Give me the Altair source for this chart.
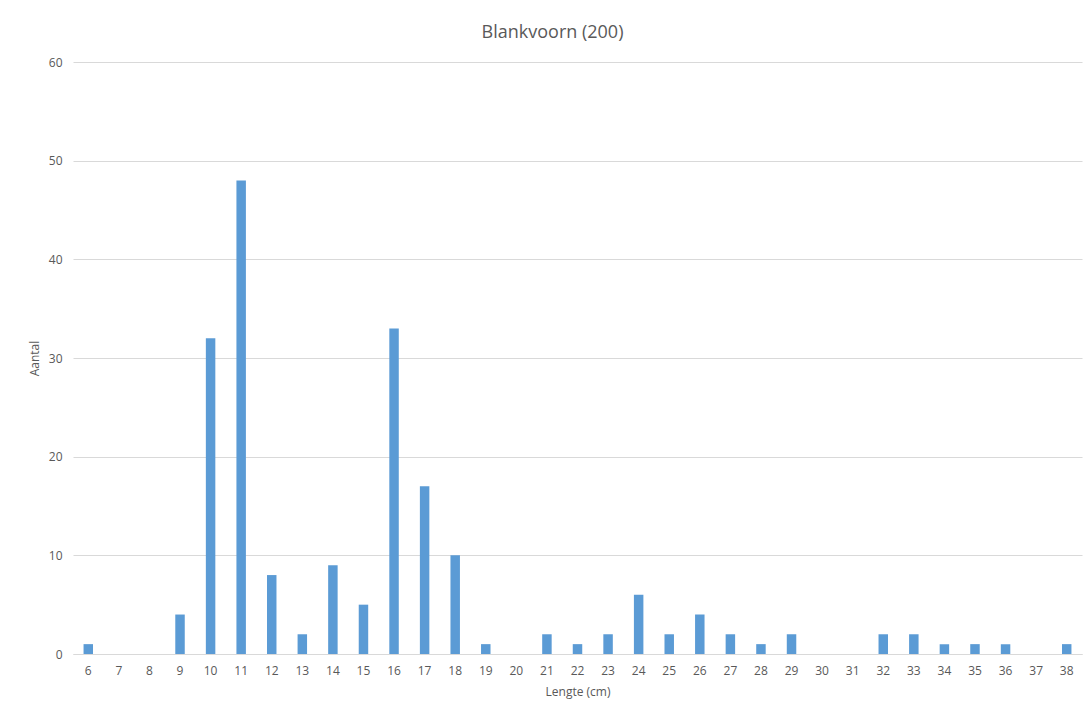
import altair as alt
import pandas as pd

lengths = list(range(6, 39))
counts = [1, 0, 0, 4, 32, 48, 8, 2, 9, 5, 33, 17, 10, 1, 0, 2, 1, 2, 6, 2, 4, 2, 1, 2, 0, 0, 2, 2, 1, 1, 1, 0, 1]

df = pd.DataFrame({"Lengte": [str(v) for v in lengths], "Aantal": counts})

font = "Open Sans"
grey = "#595959"

chart = alt.Chart(df).mark_bar(color="#5B9BD5").encode(
    x=alt.X("Lengte:N", sort=[str(v) for v in lengths],
            scale=alt.Scale(paddingInner=0.69, paddingOuter=0.345),
            axis=alt.Axis(title="Lengte (cm)", labelAngle=0, ticks=False,
                          domainColor="#D9D9D9", labelPadding=11, titlePadding=10,
                          labelFontSize=12, titleFontSize=12, titleFontWeight="normal",
                          labelColor=grey, titleColor=grey, labelFont=font, titleFont=font)),
    y=alt.Y("Aantal:Q", scale=alt.Scale(domain=[0, 60]),
            axis=alt.Axis(title="Aantal", values=[0, 10, 20, 30, 40, 50, 60], ticks=False,
                          domain=False, gridColor="#D9D9D9", labelPadding=11,
                          titlePadding=7, labelFontSize=12, titleFontSize=12,
                          titleFontWeight="normal", labelColor=grey, titleColor=grey,
                          labelFont=font, titleFont=font)),
).properties(
    width=1009, height=592,
    title=alt.TitleParams("Blankvoorn (200)", fontSize=18, font=font, color=grey,
                          fontWeight="normal", dx=-25, offset=14),
    autosize=alt.AutoSizeParams(type="none"),
    padding={"left": 73, "top": 62, "right": 7, "bottom": 64},
).configure_view(stroke=None)

chart.save("out.html", embed_options={"renderer": "svg", "actions": False})
